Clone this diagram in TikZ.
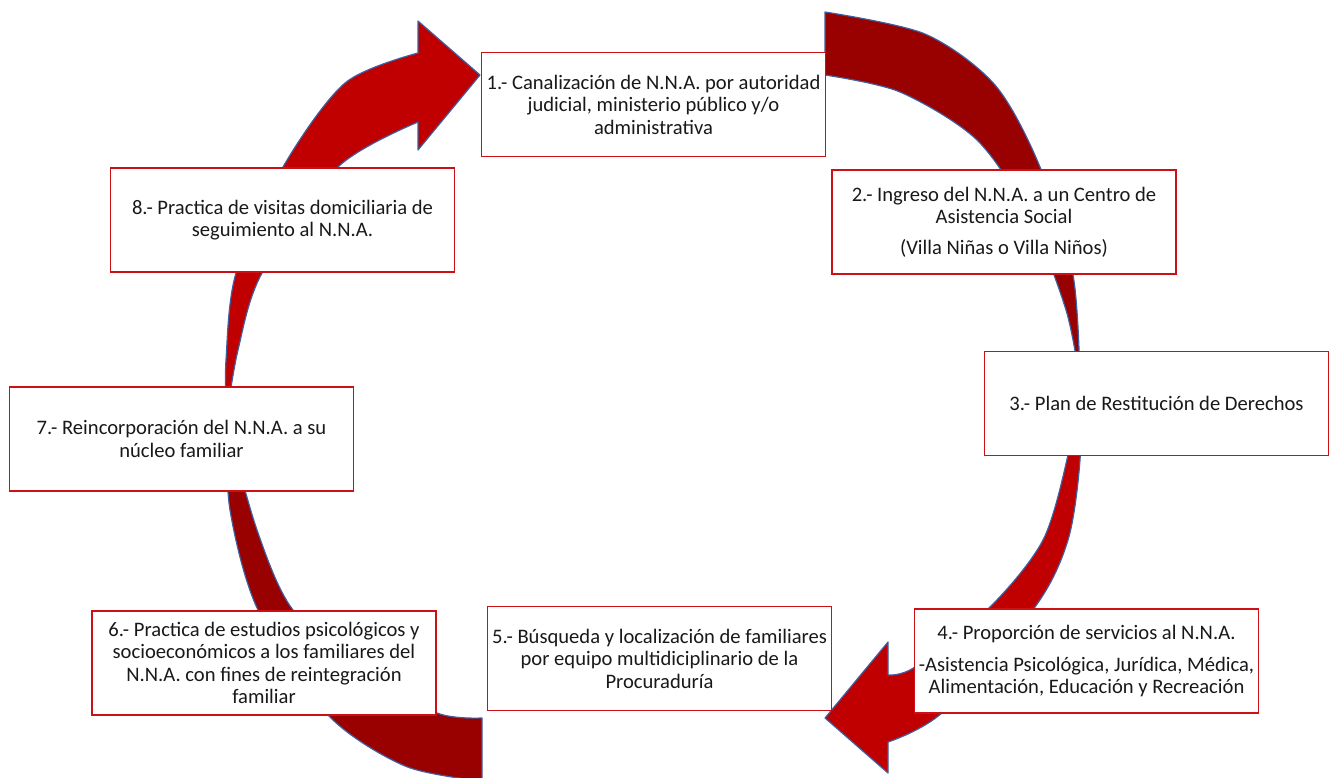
\documentclass[tikz,border=0pt]{standalone}
\usepackage{fontspec}
\setmainfont{Carlito}
\usepackage{tikz}
\definecolor{rojoclaro}{RGB}{192,0,0}
\definecolor{rojooscuro}{RGB}{153,0,0}
\definecolor{rojocaja}{RGB}{204,16,24}
\definecolor{azulborde}{RGB}{62,96,160}

\begin{document}
\begin{tikzpicture}[x=1pt,y=1pt,
  paso/.style={draw=rojocaja, line width=1.8pt, fill=white, minimum width=344pt, minimum height=104pt, align=center, font=\fontsize{20.6}{22.5}\selectfont, text=black!90},
  flechaclara/.style={fill=rojoclaro, draw=azulborde, line width=1.2pt, line join=round},
  flechaoscura/.style={fill=rojooscuro, draw=azulborde, line width=1.2pt, line join=round}]
\tikzstyle{every node}+=[inner sep=0pt]
\useasboundingbox (0,0) rectangle (1330,-777);
\filldraw [flechaclara] plot[smooth] coordinates {(226,-420) (226,-360) (236,-273) (283,-167) (345,-83) (418,-53)} -- (418,-21) -- (480,-75) -- (418,-150) -- plot[smooth] coordinates {(418,-122) (338,-167) (262,-273) (238,-350) (226,-420)} -- cycle;
\filldraw [flechaoscura] plot[smooth] coordinates {(226,-420) (230,-510) (258,-610) (328,-715) (405,-766) (482,-781)} -- plot[smooth] coordinates {(482,-718) (437,-713) (365,-672) (293,-610) (257,-530) (226,-420)} -- cycle;
\filldraw [flechaoscura] plot[smooth] coordinates {(825,-12) (925,-34) (995,-85) (1040,-167) (1073,-275) (1080,-381)} -- plot[smooth] coordinates {(1080,-381) (1066,-310) (1030,-218) (977,-140) (900,-92) (825,-75)} -- cycle;
\filldraw [flechaclara] plot[smooth] coordinates {(1080,-381) (1080,-460) (1068,-540) (1035,-607) (943,-712) (888,-742)} -- (888,-773) -- (825,-718) -- (888,-642) -- plot[smooth] coordinates {(888,-675) (915,-667) (990,-607) (1043,-540) (1068,-455) (1080,-381)} -- cycle;
\node [paso] (canal) at (653.5,-104.5) {1.- Canalización de N.N.A. por autoridad\\judicial, ministerio público y/o\\administrativa};
\node [paso] (ingreso) at (1004,-222) {2.- Ingreso del N.N.A. a un Centro de\\Asistencia Social\\[8pt](Villa Niñas o Villa Niños)};
\node [paso] (plan) at (1156.5,-403.5) {3.- Plan de Restitución de Derechos};
\node [paso] (servicios) at (1086.5,-661) {4.- Proporción de servicios al N.N.A.\\[9pt]-Asistencia Psicológica, Jurídica, Médica,\\Alimentación, Educación y Recreación};
\node [paso] (busqueda) at (659.5,-658.5) {5.- Búsqueda y localización de familiares\\por equipo multidiciplinario de la\\Procuraduría};
\node [paso] (estudios) at (264,-663) {6.- Practica de estudios psicológicos y\\socioeconómicos a los familiares del\\N.N.A. con fines de reintegración\\familiar};
\node [paso] (reincorp) at (181.5,-439) {7.- Reincorporación del N.N.A. a su\\núcleo familiar};
\node [paso] (visitas) at (282.5,-220) {8.- Practica de visitas domiciliaria de\\seguimiento al N.N.A.};
\end{tikzpicture}
\end{document}
